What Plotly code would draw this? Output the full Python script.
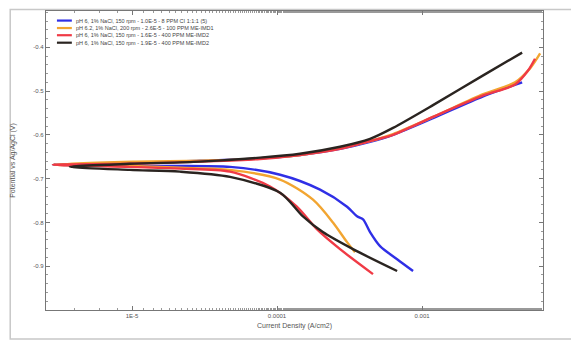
import plotly.graph_objects as go

# ---- data (current density in A/cm2, potential in V), scan from cathodic to anodic ----
blue_i = [8.67e-4, 6.73e-4, 5.13e-4, 4.38e-4, 3.92e-4, 3.56e-4, 3.04e-4, 1.98e-4, 1.05e-4,
          4.74e-5, 1.33e-5, 2.85e-6,
          6.01e-6, 1.33e-5, 2.94e-5, 6.52e-5, 1.44e-4, 2.72e-4, 4.38e-4, 6.31e-4, 1.19e-3,
          2.64e-3, 4.90e-3]
blue_e = [-0.911, -0.884, -0.854, -0.822, -0.793, -0.786, -0.764, -0.725, -0.691,
          -0.673, -0.671, -0.668,
          -0.666, -0.664, -0.659, -0.655, -0.646, -0.632, -0.616, -0.600, -0.562,
          -0.512, -0.480]

orange_i = [3.45e-4, 3.04e-4, 2.43e-4, 1.77e-4, 1.05e-4, 4.74e-5, 2.14e-5, 9.68e-6, 2.85e-6,
            1.02e-5, 2.94e-5, 6.52e-5, 1.44e-4, 2.72e-4, 4.38e-4, 6.31e-4, 1.19e-3,
            2.64e-3, 4.38e-3, 5.56e-3, 6.52e-3]
orange_e = [-0.868, -0.845, -0.800, -0.748, -0.702, -0.680, -0.675, -0.671, -0.668,
            -0.661, -0.659, -0.655, -0.646, -0.630, -0.614, -0.598, -0.559,
            -0.507, -0.480, -0.448, -0.414]

red_i = [4.59e-4, 2.72e-4, 1.89e-4, 1.37e-4, 8.95e-5, 4.74e-5, 2.14e-5, 9.68e-6, 2.85e-6,
         9.68e-6, 2.94e-5, 7.64e-5, 1.44e-4, 2.72e-4, 4.38e-4, 6.31e-4, 1.19e-3,
         2.64e-3, 4.38e-3, 5.38e-3, 6.01e-3]
red_e = [-0.918, -0.861, -0.816, -0.764, -0.718, -0.684, -0.677, -0.673, -0.668,
         -0.666, -0.661, -0.655, -0.646, -0.632, -0.614, -0.600, -0.559,
         -0.510, -0.485, -0.453, -0.426]

black_i = [6.73e-4, 3.34e-4, 2.07e-4, 1.51e-4, 1.05e-4, 4.74e-5, 2.14e-5, 9.68e-6, 3.73e-6,
           9.68e-6, 2.94e-5, 7.64e-5, 1.44e-4, 2.72e-4, 4.38e-4, 6.31e-4, 1.19e-3,
           2.64e-3, 4.90e-3]
black_e = [-0.911, -0.861, -0.822, -0.786, -0.732, -0.696, -0.684, -0.680, -0.673,
           -0.666, -0.661, -0.652, -0.643, -0.627, -0.609, -0.584, -0.532,
           -0.464, -0.412]

series_names = [
    "pH 6, 1% NaCl, 150 rpm - 1.0E-5 - 8 PPM CI 1:1:1 (5)",
    "pH 6.2, 1% NaCl, 200 rpm - 2.6E-5 - 100 PPM ME-IMD1",
    "pH 6, 1% NaCl, 150 rpm - 1.6E-5 - 400 PPM ME-IMD2",
    "pH 6, 1% NaCl, 150 rpm - 1.9E-5 - 400 PPM ME-IMD2",
]
series_colors = ["#2f2fe6", "#f2a531", "#f03a45", "#2a2420"]

x_tickvals = [1e-5, 1e-4, 1e-3]
x_ticktext = ["1E-5", "0.0001", "0.001"]
y_tickvals = [-0.4, -0.5, -0.6, -0.7, -0.8, -0.9]
y_ticktext = ["-0.4", "-0.5", "-0.6", "-0.7", "-0.8", "-0.9"]

fig = go.Figure()
data = [(blue_i, blue_e), (orange_i, orange_e), (red_i, red_e), (black_i, black_e)]
for (xi, ye), name, col in zip(data, series_names, series_colors):
    fig.add_trace(go.Scatter(x=xi, y=ye, mode="lines", name=name, showlegend=False,
                             line=dict(color=col, width=2.4, shape="spline", smoothing=0.8)))

# compact legend drawn with shapes + annotations
leg_y = [0.968, 0.943, 0.919, 0.894]
for yy, name, col in zip(leg_y, series_names, series_colors):
    fig.add_shape(type="line", xref="paper", yref="paper", x0=0.022, x1=0.052, y0=yy, y1=yy,
                  line=dict(color=col, width=2.2))
    fig.add_annotation(xref="paper", yref="paper", x=0.056, y=yy, text=name, showarrow=False,
                       xanchor="left", yanchor="middle",
                       font=dict(family="Liberation Sans, Arial", size=5.5, color="#444"))

# outer frame
fig.add_shape(type="rect", xref="paper", yref="paper", x0=-0.072, x1=1.064, y0=-0.097, y1=1.005,
              line=dict(color="#c8c8c8", width=1.5), layer="below")

axis_common = dict(showgrid=False, zeroline=False, showline=True, linecolor="#777", linewidth=1.2,
                   mirror="allticks", ticks="inside", ticklen=4, tickcolor="#777", automargin=False,
                   tickfont=dict(family="Liberation Sans, Arial", size=6, color="#555"))

fig.update_xaxes(type="log", range=[-5.593, -2.166], tickvals=x_tickvals, ticktext=x_ticktext,
                 minor=dict(ticks="inside", ticklen=2, tickcolor="#999", showgrid=False),
                 title=dict(text="Current Density (A/cm2)", standoff=4,
                            font=dict(family="Liberation Sans, Arial", size=7, color="#555")),
                 **axis_common)
fig.update_yaxes(range=[-1.0, -0.317], tickvals=y_tickvals, ticktext=y_ticktext,
                 minor=dict(ticks="inside", ticklen=2, tickcolor="#999", dtick=0.02, showgrid=False),
                 title=dict(text="Potential vs Ag/AgCl (V)", standoff=16,
                            font=dict(family="Liberation Sans, Arial", size=7, color="#555")),
                 **axis_common)

# page body adds an 8px offset, so the figure is drawn 8px smaller
fig.update_layout(width=571, height=333, margin=dict(l=38, r=36, t=3, b=31, autoexpand=False),
                  paper_bgcolor="white", plot_bgcolor="white")

fig.write_html("out.html")
